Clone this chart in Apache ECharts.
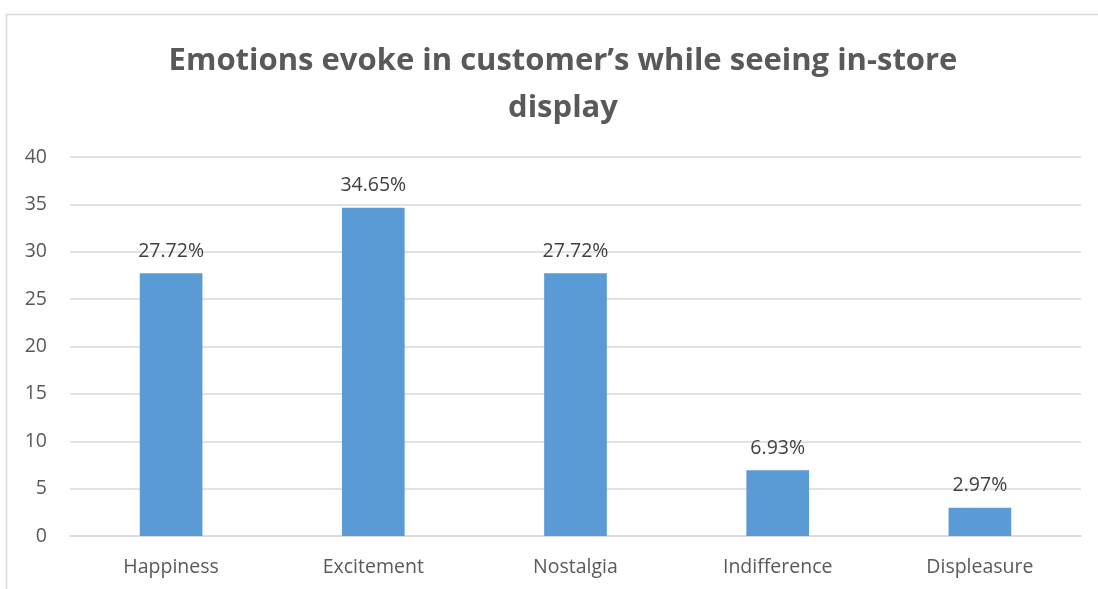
<!DOCTYPE html>
<html>
<head>
<meta charset="utf-8">
<script src="https://cdn.jsdelivr.net/npm/echarts@6/dist/echarts.min.js"></script>
<style>
  html, body { margin: 0; padding: 0; background: #fff; }
  #chart { width: 1098px; height: 589px; }
</style>
</head>
<body>
<div id="chart"></div>
<script>
// Share of customers by emotion felt when seeing in-store display (%)
const categories = ['Happiness', 'Excitement', 'Nostalgia', 'Indifference', 'Displeasure'];
const shares = [27.72, 34.65, 27.72, 6.93, 2.97];
const yTicks = { min: 0, max: 40, interval: 5 };

const FONT = '"Open Sans", "Liberation Sans", sans-serif';
const chart = echarts.init(document.getElementById('chart'), null, { renderer: 'canvas' });

chart.setOption({
  backgroundColor: '#ffffff',
  animation: false,
  graphic: [{
    type: 'rect',
    shape: { x: 6.5, y: 14.5, width: 1100, height: 600 },
    style: { fill: 'none', stroke: '#d9d9d9', lineWidth: 1.5 },
    silent: true
  }],
  title: {
    text: 'Emotions evoke in customer\u2019s while seeing in-store\ndisplay',
    left: 558,
    textAlign: 'center',
    top: 33,
    textStyle: {
      fontFamily: FONT,
      fontSize: 31,
      fontWeight: 'bold',
      color: '#595959',
      lineHeight: 47
    }
  },
  grid: { left: 70, right: 17, top: 157, bottom: 53, containLabel: false },
  xAxis: {
    type: 'category',
    data: categories,
    axisLine: { show: true, lineStyle: { color: '#d9d9d9', width: 1.5 } },
    axisTick: { show: false },
    axisLabel: { fontFamily: FONT, fontSize: 19.5, color: '#595959', margin: 21 }
  },
  yAxis: {
    type: 'value',
    min: yTicks.min,
    max: yTicks.max,
    interval: yTicks.interval,
    axisLine: { show: false },
    axisTick: { show: false },
    splitLine: { lineStyle: { color: '#d9d9d9', width: 1.5 } },
    axisLabel: { fontFamily: FONT, fontSize: 19.5, color: '#595959', margin: 23 }
  },
  series: [{
    type: 'bar',
    data: shares,
    barWidth: '31%',
    itemStyle: { color: '#5b9bd5' },
    label: {
      show: true,
      position: 'top',
      distance: 12,
      fontFamily: FONT,
      fontSize: 19.5,
      color: '#404040',
      formatter: p => p.value.toFixed(2) + '%'
    }
  }]
});
</script>
</body>
</html>
